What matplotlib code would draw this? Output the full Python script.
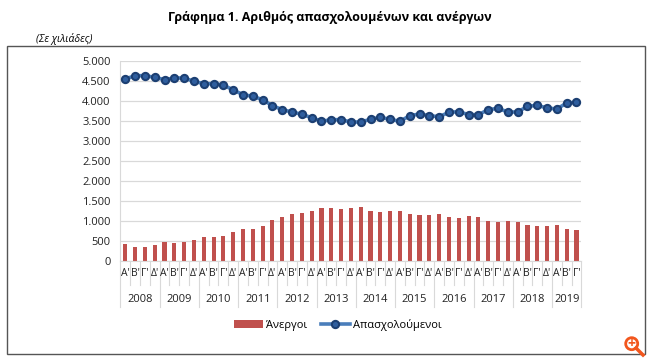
import numpy as np
import matplotlib
matplotlib.use('Agg')
import matplotlib.pyplot as plt
from matplotlib.ticker import FuncFormatter
from matplotlib.patches import Circle, Rectangle
import matplotlib.transforms as mtransforms

plt.rcParams['font.family'] = ['Open Sans', 'DejaVu Sans']

years = ['2008', '2009', '2010', '2011', '2012', '2013', '2014', '2015',
         '2016', '2017', '2018', '2019']
quarters = ["Α'", "Β'", "Γ'", "Δ'"]
n_q = [4] * 11 + [3]

# thousands, quarterly 2008 A' - 2019 C'
unemployed = [417, 358, 358, 408, 475, 458, 475, 517, 592, 592, 625, 717,
              792, 808, 867, 1033, 1100, 1167, 1208, 1258, 1325, 1325, 1300, 1325,
              1338, 1258, 1225, 1242, 1258, 1167, 1142, 1158, 1183, 1100, 1083, 1125,
              1100, 1008, 967, 1008, 983, 908, 867, 867, 908, 792, 775]
employed = [4550, 4633, 4633, 4592, 4533, 4575, 4575, 4492, 4433, 4433, 4400, 4275,
            4158, 4117, 4033, 3883, 3783, 3725, 3667, 3583, 3492, 3533, 3533, 3475,
            3475, 3542, 3592, 3542, 3492, 3633, 3675, 3633, 3608, 3717, 3733, 3658,
            3658, 3783, 3817, 3725, 3725, 3867, 3892, 3825, 3800, 3950, 3967]

q_labels = [quarters[j] for k in n_q for j in range(k)]
x = np.arange(len(unemployed))

fig = plt.figure(figsize=(6.5, 3.62), dpi=100)
fig.patch.set_facecolor('white')
ax = fig.add_axes([120.4/650, 101/362, 461/650, 200/362])

bars = ax.bar(x, unemployed, width=0.42, color='#C0504D', label='Άνεργοι', zorder=2)
line, = ax.plot(x, employed, color='#4A7EBB', lw=2.6, marker='o', ms=5.2,
                mfc='#2F5E9E', mec='#1C3F72', mew=1.5, label='Απασχολούμενοι', zorder=3)

ax.set_xlim(-0.5, len(x) - 0.5)
ax.set_ylim(0, 5000)
ax.set_yticks(np.arange(0, 5001, 500))
ax.yaxis.set_major_formatter(FuncFormatter(lambda v, p: '{:,}'.format(int(v)).replace(',', '.')))
ax.tick_params(axis='y', length=0, pad=7, labelsize=8, labelcolor='#222222')
ax.set_xticks([])
ax.grid(axis='y', color='#D9D9D9', lw=0.9, zorder=0)
for s in ['top', 'right']:
    ax.spines[s].set_visible(False)
ax.spines['left'].set_color('#D9D9D9')
ax.spines['bottom'].set_color('#D9D9D9')

trans = mtransforms.blended_transform_factory(ax.transData, ax.transAxes)
for i, lab in enumerate(q_labels):
    ax.text(i, -0.06, lab, transform=trans, ha='center', va='center',
            fontsize=7.5, color='#222222')

bounds = np.concatenate([[0], np.cumsum(n_q)]) - 0.5
for i in range(1, len(x)):
    if i - 0.5 not in bounds:
        ax.plot([i - 0.5, i - 0.5], [0, -0.12], transform=trans, color='#D9D9D9',
                lw=0.8, clip_on=False)
for b in bounds:
    ax.plot([b, b], [0, -0.23], transform=trans, color='#D9D9D9', lw=0.8, clip_on=False)
for k, yr in enumerate(years):
    ax.text((bounds[k] + bounds[k + 1]) / 2, -0.19, yr, transform=trans,
            ha='center', va='center', fontsize=8, color='#222222')

fig.legend([bars, line], ['Άνεργοι', 'Απασχολούμενοι'], loc='center',
           bbox_to_anchor=(338/650, 1 - 325/362), ncol=2,
           frameon=False, fontsize=8, handlelength=2.6, columnspacing=1.2,
           handletextpad=0.3)

fig.text(330/650, 1 - 17/362, 'Γράφημα 1. Αριθμός απασχολουμένων και ανέργων',
         ha='center', va='center', fontsize=9, fontweight='bold')
fig.text(36/650, 1 - 39/362, '(Σε χιλιάδες)', ha='left', va='center',
         fontsize=7.5, style='italic')

fig.add_artist(Rectangle((7/650, 1 - 354/362), 638/650, 308/362, transform=fig.transFigure,
                         fill=False, ec='#555555', lw=1.0))

# zoom icon
fig.add_artist(Circle((6.317, 3.62 - 3.437), 0.06, transform=fig.dpi_scale_trans,
                      fill=False, ec='#F2561D', lw=2.0))
fig.add_artist(plt.Line2D([6.36, 6.43], [3.62 - 3.48, 3.62 - 3.55],
                          transform=fig.dpi_scale_trans, color='#F2561D', lw=2.5))
fig.text(6.317/6.5, (3.62 - 3.437)/3.62, '+', ha='center', va='center',
         fontsize=10, fontweight='bold', color='#F2561D')

fig.savefig('out.png', dpi=100)
